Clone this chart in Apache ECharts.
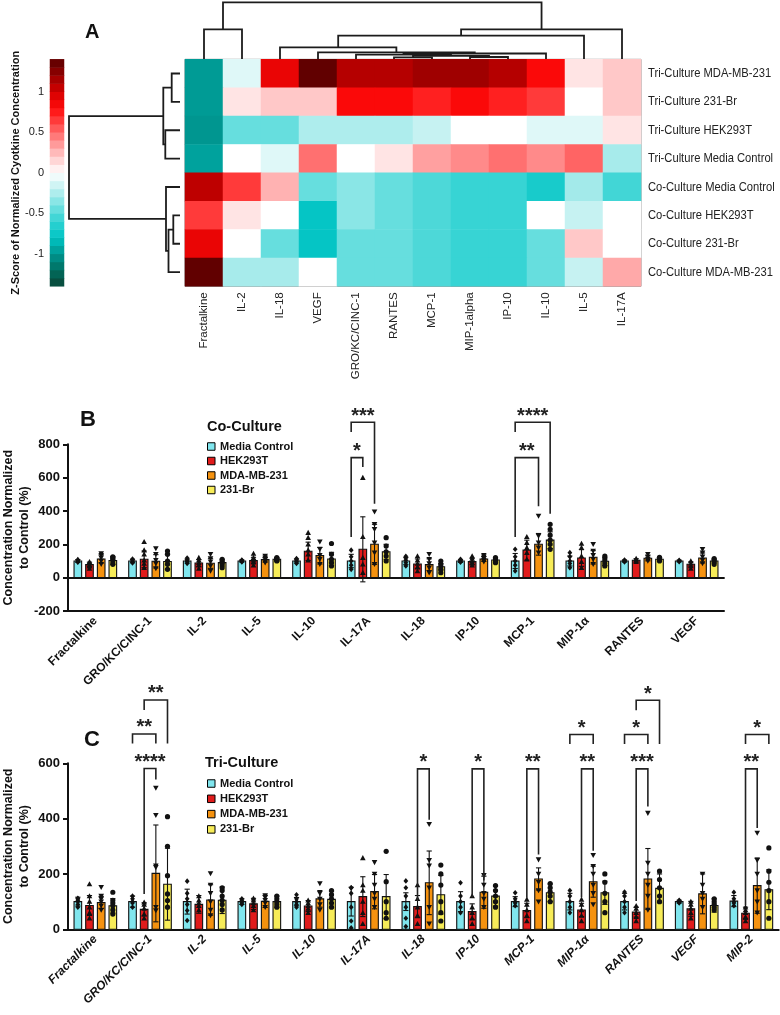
<!DOCTYPE html>
<html>
<head>
<meta charset="utf-8">
<script src="https://cdn.jsdelivr.net/npm/echarts@6/dist/echarts.min.js"></script>
<style>
  html, body { margin: 0; padding: 0; background: #fff; }
  #chart { width: 780px; height: 1015px; }
</style>
</head>
<body>
<div id="chart"></div>
<script>
// ---- Panel A: clustered heatmap ----
const cytokines = ["Fractalkine", "IL-2", "IL-18", "VEGF", "GRO/KC/CINC-1", "RANTES", "MCP-1", "MIP-1alpha", "IP-10", "IL-10", "IL-5", "IL-17A"];
const conditions = [
  "Tri-Culture MDA-MB-231", "Tri-Culture 231-Br", "Tri-Culture HEK293T", "Tri-Culture Media Control",
  "Co-Culture Media Control", "Co-Culture HEK293T", "Co-Culture 231-Br", "Co-Culture MDA-MB-231",
];
const zScores = [
  [-0.98, -0.1, 0.9, 1.37, 1.1, 1.1, 1.17, 1.17, 1.1, 0.82, 0.1, 0.2],
  [-0.98, 0.1, 0.2, 0.2, 0.82, 0.82, 0.73, 0.82, 0.73, 0.65, 0, 0.2],
  [-1.0, -0.45, -0.45, -0.25, -0.25, -0.25, -0.18, 0, 0, -0.1, -0.1, 0.1],
  [-0.95, 0, -0.1, 0.48, 0, 0.1, 0.33, 0.4, 0.48, 0.4, 0.52, -0.27],
  [1.07, 0.65, 0.27, -0.45, -0.35, -0.45, -0.52, -0.58, -0.58, -0.7, -0.28, -0.55],
  [0.65, 0.1, 0, -0.78, -0.35, -0.45, -0.52, -0.58, -0.58, 0, -0.18, 0],
  [0.9, 0, -0.45, -0.78, -0.45, -0.45, -0.52, -0.58, -0.58, -0.45, 0.2, 0],
  [1.37, -0.27, -0.27, 0, -0.45, -0.45, -0.52, -0.58, -0.58, -0.45, -0.18, 0.3],
];
const colorbarSteps = [-1.35, -1.25, -1.15, -1.05, -0.95, -0.85, -0.75, -0.65, -0.55, -0.45, -0.35, -0.25, -0.15, -0.05,
  0.05, 0.15, 0.25, 0.35, 0.45, 0.55, 0.65, 0.75, 0.85, 0.95, 1.05, 1.15, 1.25, 1.35];
const colorbarTicks = [-1, -0.5, 0, 0.5, 1];
const heatColors = ["#0a4536", "#006e60", "#009690", "#00c4c4", "#30d2d2", "#78e2e2", "#c0f0f0", "#ffffff",
  "#ffc8c8", "#ff8a8a", "#ff4a4a", "#ff0a0a", "#d40000", "#960000", "#580000"];

// linkage: [a, b, height]; ids below leaf count are leaves, higher ids are earlier merges
const rowMerges = [[0, 1, 8.3], [2, 3, 14.7], [5, 6, 6.7], [10, 7, 11.5], [4, 11, 14], [8, 9, 16.7], [13, 12, 111]];
const colMerges = [[5, 6, 2.0], [7, 8, 2.3], [12, 13, 3.5], [4, 14, 4.6], [15, 9, 5.8], [3, 16, 7.0],
  [2, 17, 12.0], [18, 10, 23.6], [19, 11, 30.0], [0, 1, 30.0], [21, 20, 57.0]];

// ---- Panels B and C: bars ----
const groups = ["Media Control", "HEK293T", "MDA-MB-231", "231-Br"];
const fills = ["#80e6ee", "#e01b1b", "#f5920f", "#f7ec58"];

const coCategories = ["Fractalkine", "GRO/KC/CINC-1", "IL-2", "IL-5", "IL-10", "IL-17A", "IL-18", "IP-10", "MCP-1", "MIP-1α", "RANTES", "VEGF"];
const coMediaMean = [100, 100, 100, 100, 100, 100, 100, 100, 100, 100, 100, 100];
const coHekMean = [78, 110, 88, 102, 158, 170, 82, 96, 165, 118, 104, 80];
const coMdaMean = [112, 98, 86, 108, 132, 200, 78, 112, 200, 122, 116, 118];
const coBrMean = [103, 97, 90, 110, 112, 155, 65, 106, 225, 98, 110, 100];
const coMediaSd = [8, 10, 12, 6, 12, 40, 22, 8, 45, 30, 6, 5];
const coHekSd = [15, 50, 20, 20, 55, 195, 30, 20, 60, 50, 10, 15];
const coMdaSd = [25, 40, 30, 15, 50, 120, 35, 15, 65, 40, 15, 30];
const coBrSd = [22, 45, 20, 10, 40, 45, 20, 12, 50, 25, 10, 12];
const coMediaPts = [[92, 96, 100, 104, 108], [88, 95, 100, 106, 112], [85, 95, 100, 108, 118], [94, 98, 100, 102, 106],
  [85, 95, 100, 108, 115], [50, 75, 100, 125, 165], [70, 90, 105, 118, 128], [92, 98, 100, 104, 110],
  [40, 75, 100, 125, 170], [60, 85, 100, 125, 150], [94, 98, 102, 106], [95, 100, 104]];
const coHekPts = [[55, 68, 78, 88, 95], [60, 85, 105, 140, 165, 215], [55, 75, 90, 105, 120], [75, 95, 105, 120, 145],
  [105, 140, 165, 200, 240, 270], [30, 80, 120, 245, 600], [40, 65, 85, 105, 130], [75, 90, 100, 115, 130],
  [110, 150, 180, 210, 245], [60, 95, 130, 180, 205], [95, 105, 115], [55, 70, 85, 100]];
const coMdaPts = [[80, 100, 120, 135, 145], [55, 85, 105, 140, 175], [40, 70, 95, 115, 140], [90, 100, 110, 120, 130],
  [80, 110, 135, 170, 215], [80, 150, 210, 290, 320, 395], [30, 60, 85, 110, 140], [95, 105, 115, 125, 135],
  [150, 180, 210, 250, 370], [80, 110, 135, 160, 200], [100, 110, 125, 140], [85, 105, 125, 150, 170]];
const coBrPts = [[80, 95, 110, 120, 125], [50, 80, 100, 140, 160], [60, 80, 90, 100, 110], [100, 105, 110, 115, 120],
  [70, 90, 110, 140, 205], [100, 130, 155, 190, 240], [30, 50, 65, 80, 100], [90, 100, 110, 120],
  [170, 200, 225, 255, 290, 320], [70, 85, 100, 115, 130], [100, 108, 116, 122], [80, 95, 105, 115]];
// [category, fromBar, toBar, top, left leg end, right leg end]
const coBrackets = [[5, 0, 1, 720, 244, 664], [5, 0, 2, 932, 874, 444], [8, 0, 2, 720, 244, 428], [8, 0, 3, 932, 874, 384]];
const coBracketLabels = ["*", "***", "**", "****"];

const triCategories = ["Fractalkine", "GRO/KC/CINC-1", "IL-2", "IL-5", "IL-10", "IL-17A", "IL-18", "IP-10", "MCP-1", "MIP-1α", "RANTES", "VEGF", "MIP-2"];
const triMediaMean = [100, 100, 100, 100, 100, 100, 100, 100, 100, 100, 100, 100, 102];
const triHekMean = [86, 72, 90, 92, 84, 118, 82, 64, 68, 70, 62, 74, 58];
const triMdaMean = [97, 202, 106, 101, 110, 136, 168, 134, 182, 172, 182, 128, 158];
const triBrMean = [85, 163, 105, 100, 108, 118, 125, 120, 132, 132, 148, 86, 143];
const triMediaSd = [16, 20, 45, 10, 15, 52, 32, 36, 18, 30, 30, 5, 20];
const triHekSd = [36, 24, 32, 20, 20, 72, 40, 28, 26, 24, 18, 27, 22];
const triMdaSd = [22, 175, 55, 22, 30, 62, 115, 58, 40, 56, 110, 72, 100];
const triBrSd = [26, 130, 48, 20, 30, 80, 70, 36, 32, 42, 52, 24, 72];
const triMediaPts = [[80, 90, 100, 105, 110, 112], [80, 95, 100, 110, 120], [32, 68, 90, 110, 130, 174], [90, 95, 100, 105, 110],
  [80, 90, 100, 110, 125], [5, 30, 80, 130, 150, 150], [10, 40, 80, 120, 150, 175], [60, 80, 100, 120, 168],
  [85, 95, 100, 110, 132], [60, 80, 100, 120, 140], [60, 80, 100, 120, 135], [95, 98, 100, 102, 105], [85, 95, 100, 110, 134]];
const triHekPts = [[40, 60, 80, 100, 120, 164], [40, 55, 75, 90, 98], [70, 85, 95, 105, 120], [70, 85, 95, 105, 112],
  [60, 75, 85, 95, 105], [20, 60, 100, 140, 160, 258], [20, 50, 80, 110, 160], [20, 40, 60, 80, 120],
  [30, 50, 70, 90, 108], [30, 50, 70, 90, 108], [30, 45, 60, 75, 85], [40, 60, 75, 90, 100], [30, 45, 60, 70, 80]];
const triMdaPts = [[70, 85, 100, 110, 120, 152], [68, 80, 224, 230, 412, 511], [50, 70, 100, 130, 160, 202], [80, 95, 105, 115, 122],
  [70, 90, 110, 130, 166], [80, 110, 130, 160, 200, 242], [20, 80, 150, 230, 250, 380], [80, 110, 130, 160, 195],
  [100, 140, 170, 200, 252], [90, 130, 160, 200, 228, 268], [70, 120, 160, 200, 240, 420], [80, 110, 130, 160, 200],
  [60, 100, 140, 200, 250, 348]];
const triBrPts = [[55, 70, 85, 95, 105, 134], [80, 104, 128, 194, 300, 407], [70, 90, 105, 120, 140, 150], [80, 90, 100, 110, 120],
  [80, 95, 110, 125, 140], [40, 60, 100, 172, 282], [30, 60, 100, 160, 200, 232], [80, 100, 120, 140, 158],
  [100, 120, 135, 150, 165], [60, 100, 130, 170, 200], [100, 120, 150, 180, 210], [70, 80, 90, 100, 110],
  [40, 100, 140, 170, 210, 294]];
const triBrackets = [[1, 0, 2, 706, 672, 672], [1, 1, 3, 829, 793, 672], [1, 1, 2, 581, 128, 541], [6, 1, 2, 580, 102, 396],
  [7, 1, 2, 580, 114, 176], [8, 1, 2, 580, 114, 270], [9, 1, 2, 580, 116, 284], [9, 0, 2, 704, 670, 670],
  [10, 1, 2, 580, 102, 444], [10, 0, 2, 704, 670, 670], [10, 1, 3, 828, 792, 670], [12, 1, 2, 580, 88, 366],
  [12, 1, 3, 704, 670, 670]];
const triBracketLabels = ["**", "**", "****", "*", "*", "**", "**", "*", "***", "*", "*", "**", "*"];

const coMeans = [coMediaMean, coHekMean, coMdaMean, coBrMean];
const coSds = [coMediaSd, coHekSd, coMdaSd, coBrSd];
const coPts = [coMediaPts, coHekPts, coMdaPts, coBrPts];
const triMeans = [triMediaMean, triHekMean, triMdaMean, triBrMean];
const triSds = [triMediaSd, triHekSd, triMdaSd, triBrSd];
const triPts = [triMediaPts, triHekPts, triMdaPts, triBrPts];

const FONT = "'Liberation Sans', Arial, sans-serif";
const INK = "#111";
const barShift = [-0.32, -0.107, 0.107, 0.32];

function dendroSegments(merges, leafCount) {
  const pos = [];
  const ht = [];
  for (let i = 0; i < leafCount; i++) {
    pos.push(i + 0.5);
    ht.push(0);
  }
  return merges.map(([a, b, h]) => {
    const seg = [pos[a], ht[a], pos[b], ht[b], h];
    pos.push((pos[a] + pos[b]) / 2);
    ht.push(h);
    return seg;
  });
}

function dendroRender(horizontal) {
  return (params, api) => {
    const pa = api.value(0), ha = api.value(1), pb = api.value(2), hb = api.value(3), h = api.value(4);
    const c = (p, v) => (horizontal ? api.coord([v, p]) : api.coord([p, v]));
    return {
      type: "polyline",
      shape: { points: [c(pa, ha), c(pa, h), c(pb, h), c(pb, hb)] },
      style: { stroke: "#1c1c1c", lineWidth: 1.8, fill: null },
    };
  };
}

// condensed row names on the right of the heatmap
function rowLabelRender(params, api) {
  const cs = params.coordSys;
  const y = api.coord([0, api.value(1)])[1];
  return {
    type: "text",
    x: cs.x + cs.width + 7,
    y,
    scaleX: 0.86,
    style: { text: conditions[params.dataIndex], align: "left", verticalAlign: "middle", fontSize: 13, fontFamily: FONT, fill: "#222" },
  };
}

function marker(k, x, y) {
  const s = 2.8;
  if (k === 3) {
    return { type: "circle", shape: { cx: x, cy: y, r: 2.6 }, style: { fill: INK } };
  }
  let pts;
  if (k === 0) pts = [[x, y - s], [x + s * 0.85, y], [x, y + s], [x - s * 0.85, y]];
  else if (k === 1) pts = [[x, y - s], [x + s, y + s * 0.8], [x - s, y + s * 0.8]];
  else pts = [[x, y + s], [x + s, y - s * 0.8], [x - s, y - s * 0.8]];
  return { type: "polygon", shape: { points: pts }, style: { fill: INK } };
}

function barRender(k, ptsList) {
  return (params, api) => {
    const i = api.value(0), mean = api.value(1), sd = api.value(2);
    const band = api.size([1, 0])[0];
    const base = api.coord([i, 0]);
    const x = base[0] + barShift[k] * band;
    const yTop = api.coord([i, mean])[1];
    const yHi = api.coord([i, mean + sd])[1];
    const yLo = api.coord([i, mean - sd])[1];
    const children = [
      { type: "rect", shape: { x: x - 3.8, y: yTop, width: 7.6, height: base[1] - yTop }, style: { fill: fills[k], stroke: INK, lineWidth: 1.1 } },
      { type: "line", shape: { x1: x, y1: yLo, x2: x, y2: yHi }, style: { stroke: INK, lineWidth: 1.1 } },
      { type: "line", shape: { x1: x - 2.6, y1: yHi, x2: x + 2.6, y2: yHi }, style: { stroke: INK, lineWidth: 1.1 } },
      { type: "line", shape: { x1: x - 2.6, y1: yLo, x2: x + 2.6, y2: yLo }, style: { stroke: INK, lineWidth: 1.1 } },
    ];
    ptsList[i].forEach((p) => children.push(marker(k, x, api.coord([i, p])[1])));
    return { type: "group", children };
  };
}

function bracketRender(labels) {
  return (params, api) => {
    const g = api.value(0), a = api.value(1), b = api.value(2);
    const band = api.size([1, 0])[0];
    const cx = api.coord([g, 0])[0];
    const xa = cx + barShift[a] * band;
    const xb = cx + barShift[b] * band;
    const yt = api.coord([g, api.value(3)])[1];
    const ya = api.coord([g, api.value(4)])[1];
    const yb = api.coord([g, api.value(5)])[1];
    return {
      type: "group",
      children: [
        { type: "polyline", shape: { points: [[xa, ya], [xa, yt], [xb, yt], [xb, yb]] }, style: { stroke: "#222", lineWidth: 1.6, fill: null } },
        {
          type: "text", x: (xa + xb) / 2, y: yt - 6,
          style: { text: labels[params.dataIndex], align: "center", verticalAlign: "middle", fontSize: 20, fontWeight: "bold", fontFamily: FONT, fill: "#222" },
        },
      ],
    };
  };
}

function barSeries(categories, means, sds, pts, xIdx, yIdx) {
  return groups.map((name, k) => ({
    type: "custom",
    name,
    xAxisIndex: xIdx,
    yAxisIndex: yIdx,
    clip: false,
    itemStyle: { color: fills[k] },
    renderItem: barRender(k, pts[k]),
    data: categories.map((c, i) => [i, means[k][i], sds[k][i]]),
    z: 3,
  }));
}

const hidden = { show: false };
const valueAxisStyle = {
  axisLine: { show: true, lineStyle: { color: INK, width: 2 } },
  axisTick: { show: true, length: 5, lineStyle: { color: INK, width: 2 } },
  splitLine: { show: false },
  axisLabel: { color: INK, fontSize: 13, fontWeight: "bold", fontFamily: FONT, margin: 8 },
  name: "Concentration Normalized\nto Control (%)",
  nameLocation: "middle",
  nameRotate: 90,
  nameGap: 35,
  nameMoveOverlap: false,
  nameTextStyle: { color: INK, fontSize: 12.5, fontWeight: "bold", fontFamily: FONT, lineHeight: 16, align: "center" },
};
const catLabel = { interval: 0, rotate: 45, color: INK, fontSize: 12, fontWeight: "bold", fontFamily: FONT, margin: 8 };

const heatData = [];
zScores.forEach((row, r) => row.forEach((z, c) => heatData.push([c, r, z])));

const chart = echarts.init(document.getElementById("chart"), null, { renderer: "canvas" });

const gridBase = { outerBoundsMode: "none", containLabel: false };

chart.setOption({
  animation: false,
  backgroundColor: "#fff",
  textStyle: { fontFamily: FONT },
  title: [
    { text: "A", left: 85, top: 22, padding: 0, textStyle: { fontSize: 20, fontWeight: "bold", color: INK } },
    { text: "B", left: 80, top: 409, padding: 0, textStyle: { fontSize: 22, fontWeight: "bold", color: INK } },
    { text: "C", left: 84, top: 729, padding: 0, textStyle: { fontSize: 22, fontWeight: "bold", color: INK } },
    { text: "Co-Culture", left: 207, top: 419, padding: 0, textStyle: { fontSize: 14.5, fontWeight: "bold", color: INK } },
    { text: "Tri-Culture", left: 205, top: 755, padding: 0, textStyle: { fontSize: 14.5, fontWeight: "bold", color: INK } },
  ],
  legend: [
    {
      left: 207, top: 440, orient: "vertical", padding: 0, itemWidth: 7.5, itemHeight: 7.5, itemGap: 1.5, selectedMode: false,
      textStyle: { fontSize: 11, fontWeight: "bold", color: INK, lineHeight: 13 },
      data: groups.map((g, k) => ({ name: g, icon: "rect", itemStyle: { color: fills[k], borderColor: "#000", borderWidth: 1 } })),
    },
    {
      left: 207, top: 777, orient: "vertical", padding: 0, itemWidth: 7.5, itemHeight: 7.5, itemGap: 2.3, selectedMode: false,
      textStyle: { fontSize: 11, fontWeight: "bold", color: INK, lineHeight: 13 },
      data: groups.map((g, k) => ({ name: g, icon: "rect", itemStyle: { color: fills[k], borderColor: "#000", borderWidth: 1 } })),
    },
  ],
  visualMap: {
    type: "continuous", show: false, min: -1.4, max: 1.4, seriesIndex: [2, 3],
    inRange: { color: heatColors },
  },
  grid: [
    { ...gridBase, left: 185, top: 2.3, width: 456, height: 57 },
    { ...gridBase, left: 69, top: 59.3, width: 111, height: 227 },
    { ...gridBase, left: 185, top: 59.3, width: 456, height: 227, show: true, borderColor: "#8a8a8a", borderWidth: 1, backgroundColor: "transparent" },
    { ...gridBase, left: 50, top: 59.3, width: 14, height: 227 },
    { ...gridBase, left: 68, top: 444.3, width: 656, height: 166.7 },
    { ...gridBase, left: 68, top: 763.3, width: 710.7, height: 166 },
  ],
  xAxis: [
    { gridIndex: 0, type: "value", min: 0, max: 12, show: false },
    { gridIndex: 1, type: "value", min: 0, max: 111, inverse: true, show: false },
    {
      gridIndex: 2, type: "category", data: cytokines, position: "bottom",
      axisLine: hidden, axisTick: hidden, splitLine: hidden,
      axisLabel: { interval: 0, rotate: 90, color: "#222", fontSize: 11.5, margin: 6, fontFamily: FONT },
    },
    { gridIndex: 3, type: "category", data: ["z"], show: false },
    {
      gridIndex: 4, type: "category", data: coCategories, position: "bottom",
      axisLine: { onZero: false, lineStyle: { color: INK, width: 2 } },
      axisTick: { alignWithLabel: true, length: 5, lineStyle: { color: INK, width: 2 } },
      axisLabel: catLabel,
    },
    {
      gridIndex: 4, type: "category", data: coCategories, position: "bottom",
      axisLine: { onZero: true, lineStyle: { color: INK, width: 1.8 } },
      axisTick: hidden, axisLabel: hidden,
    },
    {
      gridIndex: 5, type: "category", data: triCategories, position: "bottom",
      axisLine: { onZero: true, lineStyle: { color: INK, width: 2 } },
      axisTick: { alignWithLabel: true, length: 5, lineStyle: { color: INK, width: 2 } },
      axisLabel: { ...catLabel, fontStyle: "italic" },
    },
  ],
  yAxis: [
    { gridIndex: 0, type: "value", min: 0, max: 57, show: false },
    { gridIndex: 1, type: "value", min: 0, max: 8, inverse: true, show: false },
    {
      gridIndex: 2, type: "category", data: conditions, inverse: true, position: "right",
      axisLine: hidden, axisTick: hidden, splitLine: hidden, axisLabel: hidden,
    },
    { gridIndex: 3, type: "category", data: colorbarSteps, show: false, position: "left" },
    {
      gridIndex: 3, type: "value", min: -1.4, max: 1.4, position: "left",
      axisLine: hidden, axisTick: hidden, splitLine: hidden,
      axisLabel: { customValues: colorbarTicks, color: "#222", fontSize: 11, margin: 6 },
      name: "Z-Score of Normalized Cyotkine Concentration",
      nameLocation: "middle", nameRotate: 90, nameGap: 26,
      nameTextStyle: { color: INK, fontSize: 11, fontWeight: "bold" },
    },
    { gridIndex: 4, type: "value", min: -200, max: 800, interval: 200, ...valueAxisStyle },
    { gridIndex: 5, type: "value", min: 0, max: 600, interval: 200, ...valueAxisStyle },
  ],
  series: [
    {
      type: "custom", xAxisIndex: 0, yAxisIndex: 0, clip: false, silent: true,
      renderItem: dendroRender(false), data: dendroSegments(colMerges, cytokines.length),
    },
    {
      type: "custom", xAxisIndex: 1, yAxisIndex: 1, clip: false, silent: true,
      renderItem: dendroRender(true), data: dendroSegments(rowMerges, conditions.length),
    },
    {
      type: "heatmap", xAxisIndex: 2, yAxisIndex: 2, data: heatData, silent: true,
      itemStyle: { borderWidth: 0 }, emphasis: { disabled: true },
    },
    {
      type: "heatmap", xAxisIndex: 3, yAxisIndex: 3, silent: true,
      data: colorbarSteps.map((v, i) => [0, i, v]), emphasis: { disabled: true },
    },
    ...barSeries(coCategories, coMeans, coSds, coPts, 4, 5),
    {
      type: "custom", xAxisIndex: 4, yAxisIndex: 5, clip: false, silent: true, z: 4,
      renderItem: bracketRender(coBracketLabels), data: coBrackets,
    },
    ...barSeries(triCategories, triMeans, triSds, triPts, 6, 6),
    {
      type: "custom", xAxisIndex: 6, yAxisIndex: 6, clip: false, silent: true, z: 4,
      renderItem: bracketRender(triBracketLabels), data: triBrackets,
    },
    {
      type: "custom", xAxisIndex: 2, yAxisIndex: 2, clip: false, silent: true,
      renderItem: rowLabelRender, data: conditions.map((c, i) => [0, i]),
    },
  ],
});
</script>
</body>
</html>
